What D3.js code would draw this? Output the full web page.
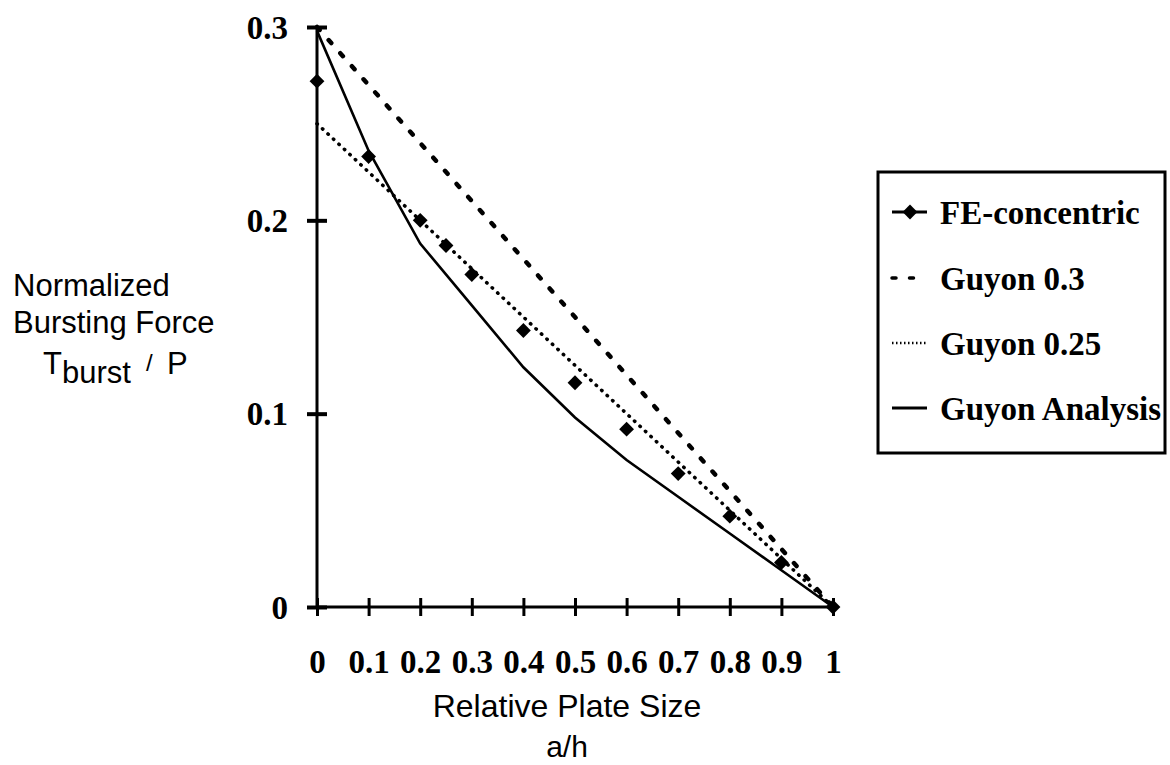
<!DOCTYPE html>
<html>
<head>
<meta charset="utf-8">
<script src="https://cdn.jsdelivr.net/npm/d3@7"></script>
<style>
  html, body { margin: 0; padding: 0; background: #fff; }
  svg { display: block; }
</style>
</head>
<body>
<svg id="chart" width="1170" height="765"></svg>
<script>
// ---- data ----
const xTicks = [0, 0.1, 0.2, 0.3, 0.4, 0.5, 0.6, 0.7, 0.8, 0.9, 1];
const xTickLabels = ["0", "0.1", "0.2", "0.3", "0.4", "0.5", "0.6", "0.7", "0.8", "0.9", "1"];
const yTicks = [0, 0.1, 0.2, 0.3];
const yTickLabels = ["0", "0.1", "0.2", "0.3"];

const feX = [0, 0.1, 0.2, 0.25, 0.3, 0.4, 0.5, 0.6, 0.7, 0.8, 0.9, 1];
const feY = [0.272, 0.233, 0.200, 0.187, 0.172, 0.143, 0.116, 0.092, 0.069, 0.047, 0.023, 0.0];

const guyonX = [0, 0.1, 0.2, 0.3, 0.4, 0.5, 0.6, 0.7, 0.8, 0.9, 1];
const guyon03 = [0.3, 0.27, 0.24, 0.21, 0.18, 0.15, 0.12, 0.09, 0.06, 0.03, 0.0];
const guyon025 = [0.25, 0.225, 0.2, 0.175, 0.15, 0.125, 0.1, 0.075, 0.05, 0.025, 0.0];
const guyonAnalysis = [0.298, 0.236, 0.188, 0.156, 0.124, 0.098, 0.076, 0.057, 0.038, 0.019, 0.0];

const seriesNames = ["FE-concentric", "Guyon 0.3", "Guyon 0.25", "Guyon Analysis"];

// ---- layout ----
const svg = d3.select("#chart");
const x = d3.scaleLinear().domain([0, 1]).range([317, 833]);
const y = d3.scaleLinear().domain([0, 0.3]).range([607, 27]);
const serif = "'Liberation Serif', 'Times New Roman', serif";
const sans = "'Liberation Sans', Arial, sans-serif";

const dashStyle = { dash: "4,13.5", width: 4.5 };
const dotStyle = { dash: "0.5,7", width: 3.5 };

// ---- axes ----
const yAxis = d3.axisLeft(y).tickValues(yTicks)
  .tickFormat((d, i) => yTickLabels[i]).tickSize(10).tickPadding(19);
const gy = svg.append("g").attr("transform", `translate(${x(0)},0)`).call(yAxis);
gy.select(".domain").attr("stroke", "#000").attr("stroke-width", 3).attr("d", `M0,${y(0.3)}V${y(0)}`);
gy.selectAll(".tick line").attr("x1", 10).attr("x2", -10).attr("stroke", "#000").attr("stroke-width", 4);
gy.selectAll(".tick text").attr("font-family", serif).attr("font-weight", "bold")
  .attr("font-size", 33).attr("fill", "#000").attr("dy", "0.34em");

const xAxis = d3.axisBottom(x).tickValues(xTicks)
  .tickFormat((d, i) => xTickLabels[i]).tickSize(10).tickPadding(10);
const gx = svg.append("g").attr("transform", `translate(0,${y(0)})`).call(xAxis);
gx.select(".domain").attr("stroke", "#000").attr("stroke-width", 3).attr("d", `M${x(0)},0H${x(1)}`);
gx.selectAll(".tick line").attr("y1", -9).attr("y2", 9).attr("stroke", "#000").attr("stroke-width", 3);
gx.selectAll(".tick text").attr("font-family", serif).attr("font-weight", "bold")
  .attr("font-size", 33).attr("fill", "#000").attr("y", 66).attr("dy", 0);

// ---- lines ----
const line = d3.line().x(d => x(d[0])).y(d => y(d[1]));

svg.append("path").datum(guyonX.map((v, i) => [v, guyon03[i]]))
  .attr("d", line).attr("fill", "none").attr("stroke", "#000")
  .attr("stroke-width", dashStyle.width).attr("stroke-dasharray", dashStyle.dash).attr("stroke-linecap", "round");

svg.append("path").datum(guyonX.map((v, i) => [v, guyon025[i]]))
  .attr("d", line).attr("fill", "none").attr("stroke", "#000")
  .attr("stroke-width", dotStyle.width).attr("stroke-dasharray", dotStyle.dash).attr("stroke-linecap", "round");

svg.append("path").datum(guyonX.map((v, i) => [v, guyonAnalysis[i]]))
  .attr("d", line).attr("fill", "none").attr("stroke", "#000").attr("stroke-width", 2.6);

const diamond = d3.symbol().type(d3.symbolSquare).size(110);
svg.append("g").selectAll("path").data(feX.map((v, i) => [v, feY[i]])).join("path")
  .attr("d", diamond)
  .attr("transform", d => `translate(${x(d[0])},${y(d[1])}) rotate(45)`)
  .attr("fill", "#000");

// ---- axis titles ----
const yTitle = svg.append("g").attr("font-family", sans).attr("font-size", 31).attr("fill", "#000");
yTitle.append("text").attr("x", 13).attr("y", 296).text("Normalized");
yTitle.append("text").attr("x", 13).attr("y", 333).text("Bursting Force");
const t = yTitle.append("text").attr("x", 43).attr("y", 374);
t.append("tspan").text("T");
t.append("tspan").attr("dy", 9).text("burst");
t.append("tspan").attr("x", 146).attr("dy", -12).attr("font-size", 24).text("/");
t.append("tspan").attr("x", 167).attr("dy", 3).text("P");

svg.append("text").attr("x", 567).attr("y", 717).attr("text-anchor", "middle")
  .attr("font-family", sans).attr("font-size", 32).attr("fill", "#000").text("Relative Plate Size");
svg.append("text").attr("x", 567).attr("y", 757).attr("text-anchor", "middle")
  .attr("font-family", sans).attr("font-size", 30).attr("fill", "#000").text("a/h");

// ---- legend ----
const lg = svg.append("g");
lg.append("rect").attr("x", 878).attr("y", 172).attr("width", 287).attr("height", 281)
  .attr("fill", "#fff").attr("stroke", "#000").attr("stroke-width", 3);
const baselines = [224, 290, 355, 420];
const legendStyles = [
  { dash: null, width: 3, marker: true },
  { dash: dashStyle.dash, width: 3.5, marker: false, cap: "round" },
  { dash: "1.5,2.5", width: 2.5, marker: false },
  { dash: null, width: 3, marker: false }
];
seriesNames.forEach((name, i) => {
  const by = baselines[i];
  const ly = by - 12;
  const st = legendStyles[i];
  const ln = lg.append("line").attr("x1", 892).attr("x2", 927).attr("y1", ly).attr("y2", ly)
    .attr("stroke", "#000").attr("stroke-width", st.width);
  if (st.dash) ln.attr("stroke-dasharray", st.dash);
  if (st.cap) ln.attr("stroke-linecap", st.cap);
  if (st.marker) {
    lg.append("path").attr("d", diamond).attr("transform", `translate(910,${ly}) rotate(45)`).attr("fill", "#000");
  }
  lg.append("text").attr("x", 940).attr("y", by).attr("font-family", serif)
    .attr("font-weight", "bold").attr("font-size", 33).attr("fill", "#000").text(name);
});
</script>
</body>
</html>
